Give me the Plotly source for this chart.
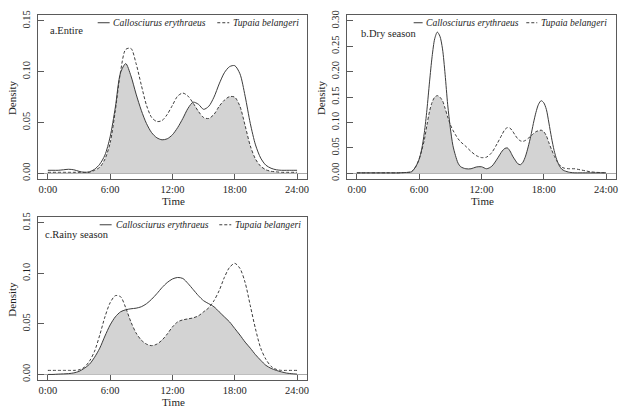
import numpy as np
import plotly.graph_objects as go

W, H = 619, 414

# ---------------- data ----------------
time_half = [i * 0.5 for i in range(49)]

entire_ce = [0.003, 0.003, 0.003, 0.0035, 0.004, 0.0035, 0.002, 0.001, 0.0015, 0.004,
             0.009, 0.018, 0.036, 0.065, 0.099, 0.108, 0.096, 0.078, 0.062, 0.049,
             0.040, 0.035, 0.033, 0.034, 0.038, 0.045, 0.054, 0.064, 0.070, 0.068,
             0.063, 0.066, 0.075, 0.088, 0.099, 0.105, 0.106, 0.098, 0.076, 0.049,
             0.028, 0.015, 0.008, 0.005, 0.0035, 0.003, 0.003, 0.003, 0.003]
entire_tb = [0.001, 0.001, 0.001, 0.001, 0.001, 0.001, 0.001, 0.001, 0.001, 0.003,
             0.006, 0.014, 0.030, 0.062, 0.100, 0.122, 0.123, 0.108, 0.087, 0.067,
             0.055, 0.051, 0.052, 0.058, 0.067, 0.076, 0.079, 0.076, 0.069, 0.061,
             0.055, 0.054, 0.058, 0.066, 0.072, 0.0755, 0.075, 0.066, 0.047, 0.027,
             0.014, 0.007, 0.0035, 0.002, 0.0015, 0.001, 0.001, 0.001, 0.001]

time_dry = [0, 1, 2, 3, 4, 4.5, 5, 5.25, 5.5, 5.75, 6, 6.25, 6.5, 6.75, 7, 7.25, 7.5, 7.75,
            8, 8.25, 8.5, 8.75, 9, 9.25, 9.5, 9.75, 10, 10.5, 11, 11.5, 12, 12.5, 13, 13.5,
            14, 14.25, 14.5, 14.75, 15, 15.25, 15.5, 15.75, 16, 16.25, 16.5, 16.75, 17,
            17.25, 17.5, 17.75, 18, 18.25, 18.5, 18.75, 19, 19.25, 19.5, 19.75, 20, 20.5,
            21, 21.5, 22, 22.5, 23, 23.5, 24]
dry_ce = [0.001, 0.001, 0.001, 0.001, 0.001, 0.0015, 0.002, 0.003, 0.008, 0.016, 0.028,
          0.048, 0.080, 0.125, 0.180, 0.230, 0.265, 0.278, 0.270, 0.245, 0.195, 0.135,
          0.090, 0.055, 0.035, 0.020, 0.013, 0.009, 0.009, 0.0125, 0.013, 0.009, 0.014,
          0.028, 0.044, 0.049, 0.050, 0.044, 0.034, 0.026, 0.019, 0.017, 0.022, 0.034,
          0.052, 0.073, 0.098, 0.120, 0.136, 0.143, 0.139, 0.126, 0.099, 0.070, 0.045,
          0.027, 0.015, 0.008, 0.005, 0.002, 0.001, 0.001, 0.001, 0.001, 0.001, 0.001,
          0.001]
dry_tb = [0.001, 0.001, 0.001, 0.001, 0.001, 0.0015, 0.002, 0.003, 0.008, 0.016, 0.028,
          0.045, 0.066, 0.095, 0.122, 0.140, 0.150, 0.153, 0.150, 0.143, 0.128, 0.111,
          0.096, 0.085, 0.076, 0.068, 0.062, 0.053, 0.043, 0.035, 0.031, 0.032, 0.041,
          0.058, 0.077, 0.086, 0.090, 0.089, 0.083, 0.075, 0.068, 0.064, 0.063, 0.065,
          0.069, 0.073, 0.078, 0.082, 0.084, 0.085, 0.082, 0.074, 0.060, 0.047, 0.035,
          0.025, 0.017, 0.012, 0.010, 0.009, 0.009, 0.007, 0.005, 0.003, 0.002, 0.0015,
          0.001]

rainy_ce = [0.0, 0.0, 0.0003, 0.0005, 0.0008, 0.0015, 0.003, 0.006, 0.010, 0.017,
            0.026, 0.038, 0.049, 0.057, 0.062, 0.064, 0.065, 0.0656, 0.067, 0.070,
            0.0745, 0.080, 0.086, 0.091, 0.0945, 0.096, 0.095, 0.090, 0.084, 0.078,
            0.073, 0.070, 0.067, 0.062, 0.057, 0.052, 0.0455, 0.039, 0.032, 0.026,
            0.0195, 0.014, 0.009, 0.006, 0.004, 0.0025, 0.0013, 0.0007, 0.0003]
rainy_tb = [0.004, 0.004, 0.004, 0.004, 0.004, 0.004, 0.0045, 0.007, 0.013, 0.023,
            0.039, 0.057, 0.071, 0.078, 0.077, 0.066, 0.052, 0.041, 0.034, 0.030,
            0.0285, 0.030, 0.034, 0.040, 0.047, 0.052, 0.054, 0.055, 0.056, 0.058,
            0.062, 0.066, 0.073, 0.083, 0.096, 0.106, 0.110, 0.105, 0.091, 0.068,
            0.045, 0.026, 0.015, 0.008, 0.005, 0.004, 0.004, 0.004, 0.004]

x_tickvals = [0, 6, 12, 18, 24]
x_ticktext = ["0:00", "6:00", "12:00", "18:00", "24:00"]
panel_titles = ["a.Entire", "b.Dry season", "c.Rainy season"]
species = ["Callosciurus erythraeus", "Tupaia belangeri"]

# ---------------- layout helpers ----------------
def px(x):
    return x / W

def py(y):
    return 1 - y / H

FONT = "Liberation Serif"
LINE = "#3c3c3c"
BOX = "#5a5a5a"
FILL = "#d3d3d3"
TXT = "#1e1e1e"

panels = [
    dict(t=time_half, ce=entire_ce, tb=entire_tb, box=(38, 308, 10, 177),
         yticks=[0, 0.05, 0.10, 0.15], ymax=0.15),
    dict(t=time_dry, ce=dry_ce, tb=dry_tb, box=(348, 618, 10, 177),
         yticks=[0, 0.05, 0.10, 0.15, 0.20, 0.25, 0.30], ymax=0.30),
    dict(t=time_half, ce=rainy_ce, tb=rainy_tb, box=(38, 308, 215, 381),
         yticks=[0, 0.05, 0.10, 0.15], ymax=0.15),
]
legend_pos = [
    dict(s=(98, 110), st=111, d=(218, 230), dt=232, y=18),
    dict(s=(415, 424), st=425, d=(528, 539), dt=541, y=18),
    dict(s=(100, 112), st=114, d=(220, 232), dt=234, y=223),
]
label_pos = [(48, 26), (360, 29), (43, 233)]

fig = go.Figure()
annotations = []
shapes = []
for i, p in enumerate(panels):
    k = "" if i == 0 else str(i + 1)
    xa, ya = "x" + k, "y" + k
    t = np.array(p["t"])
    ce = np.array(p["ce"])
    tb = np.array(p["tb"])
    ov = np.minimum(ce, tb)
    fig.add_trace(go.Scatter(x=t, y=ov, mode="lines", fill="tozeroy", fillcolor=FILL,
                             line=dict(width=0, shape="spline", smoothing=0.8),
                             showlegend=False, hoverinfo="skip", xaxis=xa, yaxis=ya))
    fig.add_trace(go.Scatter(x=t, y=tb, mode="lines", name=species[1],
                             line=dict(color=LINE, width=1, dash="3px,2px",
                                       shape="spline", smoothing=0.8),
                             showlegend=False, xaxis=xa, yaxis=ya))
    fig.add_trace(go.Scatter(x=t, y=ce, mode="lines", name=species[0],
                             line=dict(color=LINE, width=1, shape="spline", smoothing=0.8),
                             showlegend=False, xaxis=xa, yaxis=ya))
    x0, x1, y0, y1 = p["box"]
    ymax = p["ymax"]
    pad = ymax * 0.04
    fig.layout["xaxis" + k] = dict(
        domain=[px(x0), px(x1)], anchor=ya, range=[-0.96, 24.96],
        tickvals=x_tickvals, ticktext=x_ticktext, ticks="inside", ticklen=5,
        tickcolor=BOX, showline=True, linecolor=BOX, linewidth=1, mirror=True,
        showgrid=False, zeroline=False, ticklabelstandoff=0,
        tickfont=dict(family=FONT, size=10.5, color=TXT))
    fig.layout["yaxis" + k] = dict(
        domain=[py(y1), py(y0)], anchor=xa, range=[-pad, ymax + pad],
        tickvals=p["yticks"], ticktext=["%.2f" % v for v in p["yticks"]],
        tickangle=-90, ticks="inside", ticklen=6, tickcolor=BOX,
        showline=True, linecolor=BOX, linewidth=1, mirror=True, showgrid=False,
        zeroline=True, zerolinecolor="#a8a8a8", zerolinewidth=1, ticklabelstandoff=3,
        tickfont=dict(family=FONT, size=10.5, color=TXT))
    # axis titles
    annotations.append(dict(text="Time", x=px((x0 + x1) / 2 + 1), y=py(y1 + 22),
                            xanchor="center", yanchor="middle",
                            xref="paper", yref="paper", showarrow=False,
                            font=dict(family=FONT, size=11, color=TXT)))
    annotations.append(dict(text="Density", x=px(x0 - 26), y=py((y0 + y1) / 2),
                            xanchor="center", yanchor="middle",
                            xref="paper", yref="paper", showarrow=False, textangle=-90,
                            font=dict(family=FONT, size=11, color=TXT)))
    # panel label
    lx, ly = label_pos[i]
    annotations.append(dict(text=panel_titles[i], x=px(lx), y=py(ly), xanchor="left",
                            yanchor="middle",
                            xref="paper", yref="paper", showarrow=False,
                            font=dict(family=FONT, size=10.5, color=TXT)))
    # legend
    lg = legend_pos[i]
    shapes.append(dict(type="line", xref="paper", yref="paper", x0=px(lg["s"][0]),
                       x1=px(lg["s"][1]), y0=py(lg["y"]), y1=py(lg["y"]),
                       line=dict(color=LINE, width=1)))
    shapes.append(dict(type="line", xref="paper", yref="paper", x0=px(lg["d"][0]),
                       x1=px(lg["d"][1]), y0=py(lg["y"]), y1=py(lg["y"]),
                       line=dict(color=LINE, width=1, dash="3px,2px")))
    annotations.append(dict(text="<i>" + species[0] + "</i>", x=px(lg["st"]),
                            y=py(lg["y"]), xanchor="left", yanchor="middle",
                            xref="paper", yref="paper",
                            showarrow=False, font=dict(family=FONT, size=9.6, color=TXT)))
    annotations.append(dict(text="<i>" + species[1] + "</i>", x=px(lg["dt"]),
                            y=py(lg["y"]), xanchor="left", yanchor="middle",
                            xref="paper", yref="paper",
                            showarrow=False, font=dict(family=FONT, size=9.6, color=TXT)))

fig.update_layout(width=W, height=H, margin=dict(l=0, r=0, t=0, b=0),
                  font=dict(family=FONT, color=TXT),
                  paper_bgcolor="white", plot_bgcolor="white",
                  annotations=annotations, shapes=shapes, showlegend=False)
fig.write_html("out.html", config={"displayModeBar": False},
               post_script="document.body.style.margin='0';document.body.style.padding='0';")
